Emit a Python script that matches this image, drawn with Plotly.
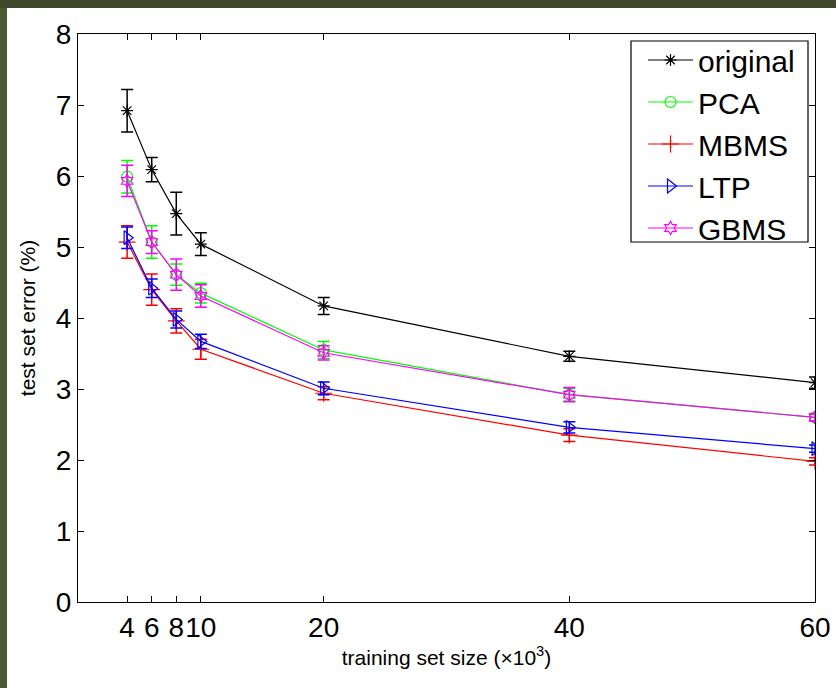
import plotly.graph_objects as go

sizes = [4, 6, 8, 10, 20, 40, 60]
x_ticks = [4, 6, 8, 10, 20, 40, 60]
y_ticks = [0, 1, 2, 3, 4, 5, 6, 7, 8]

original = [6.92, 6.09, 5.47, 5.04, 4.17, 3.46, 3.09]
original_err = [0.30, 0.17, 0.30, 0.16, 0.12, 0.07, 0.08]
pca = [5.99, 5.07, 4.61, 4.35, 3.55, 2.92, 2.60]
pca_err = [0.23, 0.23, 0.15, 0.14, 0.12, 0.09, 0.05]
mbms = [5.07, 4.40, 3.96, 3.56, 2.94, 2.35, 1.98]
mbms_err = [0.23, 0.22, 0.17, 0.14, 0.09, 0.09, 0.05]
ltp = [5.13, 4.42, 3.98, 3.67, 3.01, 2.46, 2.16]
ltp_err = [0.15, 0.13, 0.12, 0.10, 0.09, 0.08, 0.05]
gbms = [5.93, 5.07, 4.61, 4.31, 3.51, 2.92, 2.60]
gbms_err = [0.22, 0.16, 0.22, 0.16, 0.10, 0.10, 0.05]

series = [
    ("original", original, original_err, "#000000", "asterisk-open", 10),
    ("PCA", pca, pca_err, "#00ff00", "circle-open", 11),
    ("MBMS", mbms, mbms_err, "#ff0000", "cross-thin-open", 12),
    ("LTP", ltp, ltp_err, "#0000ff", "triangle-right-open", 12),
    ("GBMS", gbms, gbms_err, "#ff00ff", "hexagram-open", 10),
]

fig = go.Figure()
for name, vals, errs, color, sym, msize in series:
    fig.add_trace(go.Scatter(
        x=sizes, y=vals, name=name, mode="lines+markers",
        line=dict(color=color, width=1.2),
        marker=dict(symbol=sym, size=msize, color=color,
                    line=dict(color=color, width=1.2)),
        error_y=dict(type="data", array=errs, visible=True,
                     color=color, thickness=1.5, width=6),
    ))

# Plot area: x 78..815, y 34..602 in a 836x688 page
L, R, T, B = 78, 815, 34, 602
W, H = R - L, B - T

def px(x):
    return (x - L) / W

def py(y):
    return (B - y) / H

fig.update_layout(
    width=836, height=688,
    margin=dict(l=L, r=836 - R, t=T, b=688 - B, pad=0, autoexpand=False),
    paper_bgcolor="white", plot_bgcolor="white",
    font=dict(family="Liberation Sans, Arial, sans-serif", color="black"),
    showlegend=True,
    legend=dict(
        x=px(643), y=py(34), xanchor="left", yanchor="top",
        bgcolor="rgba(0,0,0,0)", borderwidth=0,
        font=dict(size=30, family="Liberation Sans, Arial, sans-serif"),
        tracegroupgap=0, itemwidth=45,
    ),
    shapes=[
        dict(type="rect", xref="paper", yref="paper",
             x0=px(631), x1=px(808), y0=py(242), y1=py(41),
             fillcolor="white", line=dict(color="black", width=1.2), layer="below"),
        dict(type="rect", xref="paper", yref="paper",
             x0=px(0), x1=px(7), y0=py(688), y1=py(0),
             fillcolor="#4a5a32", line=dict(width=0), layer="above"),
        dict(type="rect", xref="paper", yref="paper",
             x0=px(0), x1=px(836), y0=py(8), y1=py(0),
             fillcolor="#3e4a2b", line=dict(width=0), layer="above"),
    ],
)

fig.update_xaxes(
    range=[0, 60], tickvals=x_ticks, ticktext=[str(t) for t in x_ticks],
    tickangle=0, ticklabeloverflow="allow", automargin=False,
    ticks="inside", ticklen=6, tickcolor="black", tickwidth=1,
    showline=True, linecolor="black", linewidth=1, mirror="ticks",
    showgrid=False, zeroline=False,
    tickfont=dict(size=28),
    title=dict(text="training set size (×10<sup>3</sup>)", font=dict(size=21), standoff=8),
)
fig.update_yaxes(
    range=[0, 8], tickvals=y_ticks, automargin=False,
    ticks="inside", ticklen=6, tickcolor="black", tickwidth=1,
    showline=True, linecolor="black", linewidth=1, mirror="ticks",
    showgrid=False, zeroline=False,
    tickfont=dict(size=28),
    title=dict(text="test set error (%)", font=dict(size=21), standoff=14),
)

fig.write_html("out.html")
